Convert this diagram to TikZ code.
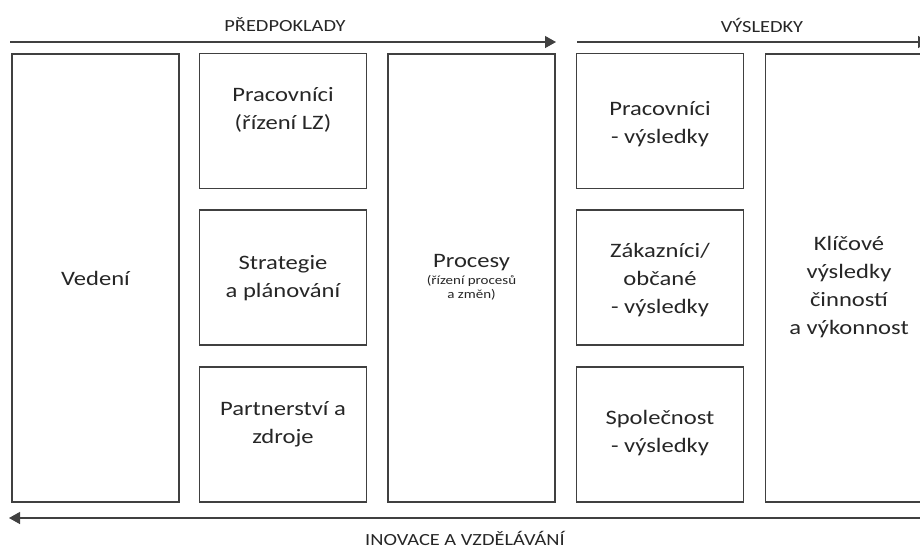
\documentclass[tikz,border=0pt]{standalone}
\usepackage{fontspec}
\setmainfont{Carlito}[FakeStretch=1.2]
\usetikzlibrary{arrows.meta,positioning}

\tikzset{
    box/.style={draw=black!75, line width=1.3pt, minimum width=167pt, inner sep=0pt},
    tallbox/.style={box, minimum height=448pt},
    smallbox/.style={box, minimum height=135pt},
    boxtext/.style={align=center, font=\fontsize{20.5}{28}\selectfont, text=black!85},
    smalltext/.style={align=center, font=\fontsize{12.5}{14.5}\selectfont, text=black!85},
    headtext/.style={font=\fontsize{17}{20}\selectfont, text=black!85},
    flow/.style={draw=black!75, line width=1.3pt, -{Triangle[length=11pt,width=12pt]}}
}

\begin{document}
\begin{tikzpicture}[x=1pt, y=-1pt]

    \clip (0,0) rectangle (920,550);
    \useasboundingbox (0,0) rectangle (920,550);

    % arrows
    \coordinate (pstart) at (10,42);
    \coordinate (pend)   at (556,42);
    \coordinate (vstart) at (577,42);
    \coordinate (vend)   at (929,42);
    \coordinate (istart) at (935,518);
    \coordinate (iend)   at (9,518);

    \draw [flow] (pstart) -- (pend);
    \draw [flow] (vstart) -- (vend);
    \draw [flow] (istart) -- (iend);

    \node (predpoklady) [headtext] at (285,25)  {PŘEDPOKLADY};
    \node (vysledky)    [headtext] at (762,25)  {VÝSLEDKY};
    \node (inovace)     [headtext] at (465,538) {INOVACE A VZDĚLÁVÁNÍ};

    % columns
    \node (vedeni)   [tallbox] at (95.5,278)  {};
    \node (procesy)  [tallbox] at (471.5,278) {};
    \node (klicove)  [tallbox] at (849,278)   {};

    \foreach \c/\x in {a/283,b/660}{
        \node (\c1) [smallbox] at (\x,121)   {};
        \node (\c2) [smallbox] at (\x,277.5) {};
        \node (\c3) [smallbox] at (\x,434.5) {};
    }

    % texts
    \node [boxtext] at (vedeni.center) {Vedení};
    \node [boxtext] at ([yshift=11pt]a1.center) {Pracovníci\\(řízení LZ)};
    \node [boxtext] at ([yshift=-1pt]a2.center) {Strategie\\a plánování};
    \node [boxtext] at ([yshift=10pt]a3.center) {Partnerství a\\zdroje};
    \node (proctitle) [boxtext] at ([yshift=15pt]procesy.center) {Procesy};
    \node [smalltext, below=-3pt of proctitle] {(řízení procesů\\a změn)};
    \node [boxtext] at ([yshift=-3pt]b1.center) {Pracovníci\\- výsledky};
    \node [boxtext] at ([yshift=-3pt]b2.center) {Zákazníci/\\občané\\- výsledky};
    \node [boxtext] at ([yshift=1pt]b3.center) {Společnost\\- výsledky};
    \node [boxtext] at ([yshift=-9pt]klicove.center) {Klíčové\\výsledky\\činností\\a výkonnost};

\end{tikzpicture}
\end{document}
